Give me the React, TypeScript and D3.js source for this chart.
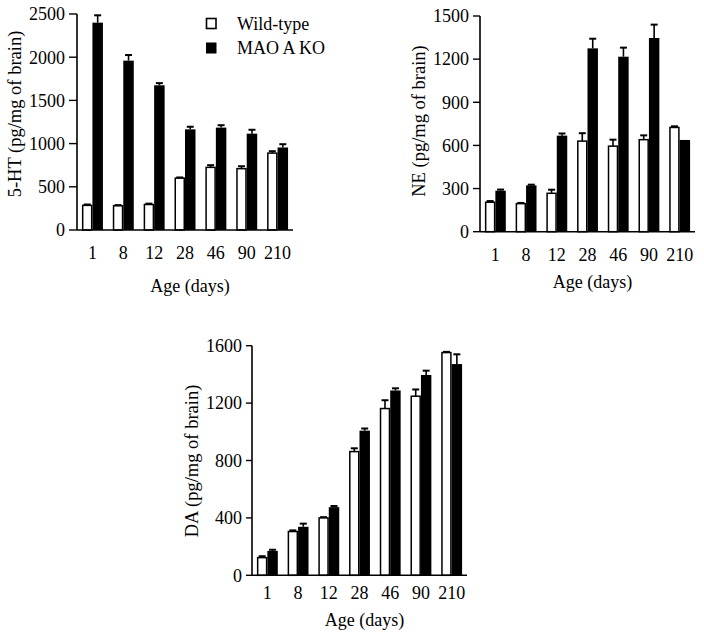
import React from "react";
import * as d3 from "d3";

const ages = ["1", "8", "12", "28", "46", "90", "210"];
const seriesNames = ["Wild-type", "MAO A KO"];

const htWT = [285, 280, 295, 600, 725, 710, 890];
const htWTErr = [10, 8, 10, 8, 25, 28, 22];
const htKO = [2400, 1960, 1675, 1165, 1185, 1115, 955];
const htKOErr = [85, 65, 25, 30, 28, 45, 38];

const neWT = [205, 195, 267, 630, 595, 640, 725];
const neWTErr = [8, 5, 25, 55, 45, 30, 8];
const neKO = [285, 322, 668, 1275, 1217, 1347, 638];
const neKOErr = [8, 5, 15, 67, 63, 93, 0];

const daWT = [123, 305, 400, 862, 1162, 1248, 1552];
const daWTErr = [10, 8, 5, 23, 58, 47, 5];
const daKO = [170, 338, 475, 1008, 1288, 1396, 1472];
const daKOErr = [8, 22, 8, 15, 15, 30, 68];

const htTicks = [0, 500, 1000, 1500, 2000, 2500];
const neTicks = [0, 300, 600, 900, 1200, 1500];
const daTicks = [0, 400, 800, 1200, 1600];

const FONT = "'Liberation Serif', 'Times New Roman', serif";

type PanelProps = {
  x0: number; x1: number; yBottom: number; yTop: number;
  max: number; ticks: number[]; tickLen: number;
  wt: number[]; wtErr: number[]; ko: number[]; koErr: number[];
  yTitle: string; yTitleX: number; yTitleY: number;
  labelY: number; titleY: number;
};

function Panel(p: PanelProps) {
  const x = d3.scaleBand<string>().domain(ages).range([p.x0, p.x1]).paddingInner(0.32).paddingOuter(0.16);
  const sub = d3.scaleBand<string>().domain(seriesNames).range([0, x.bandwidth()]);
  const y = d3.scaleLinear().domain([0, p.max]).range([p.yBottom, p.yTop]);
  const series = [
    { name: seriesNames[0], vals: p.wt, errs: p.wtErr, fill: "#fff" },
    { name: seriesNames[1], vals: p.ko, errs: p.koErr, fill: "#000" },
  ];
  const capW = 7;
  return (
    <g>
      {series.map((s) =>
        ages.map((a, i) => {
          const bx = (x(a) as number) + (sub(s.name) as number);
          const bw = sub.bandwidth();
          const top = y(s.vals[i]);
          const cx = bx + bw / 2;
          const errTop = y(s.vals[i] + s.errs[i]);
          return (
            <g key={s.name + a}>
              {s.errs[i] > 0 && (
                <g stroke="#000" strokeWidth={1.6}>
                  <line x1={cx} x2={cx} y1={top} y2={errTop} />
                  <line x1={cx - capW / 2} x2={cx + capW / 2} y1={errTop} y2={errTop} strokeWidth={2} />
                </g>
              )}
              <rect
                x={s.fill === "#fff" ? bx + 0.75 : bx}
                y={top}
                width={s.fill === "#fff" ? bw - 1.5 : bw}
                height={p.yBottom - top}
                fill={s.fill}
                stroke="#000"
                strokeWidth={s.fill === "#fff" ? 1.5 : 0}
              />
            </g>
          );
        })
      )}
      <line x1={p.x0} x2={p.x0} y1={p.yBottom} y2={y(p.max)} stroke="#000" strokeWidth={1.6} />
      {p.ticks.map((t) => (
        <g key={t}>
          <line x1={p.x0 - p.tickLen} x2={p.x0} y1={y(t)} y2={y(t)} stroke="#000" strokeWidth={1.4} />
          <text x={p.x0 - p.tickLen - 4} y={y(t)} dy="0.35em" textAnchor="end" fontSize={18} fontFamily={FONT}>
            {t}
          </text>
        </g>
      ))}
      <line x1={p.x0} x2={p.x1} y1={p.yBottom} y2={p.yBottom} stroke="#000" strokeWidth={1.6} />
      {ages.map((a) => (
        <text key={a} x={(x(a) as number) + x.bandwidth() / 2} y={p.labelY} dy="0.35em" textAnchor="middle" fontSize={18} fontFamily={FONT}>
          {a}
        </text>
      ))}
      <text x={(p.x0 + p.x1) / 2 + 5} y={p.titleY} dy="0.35em" textAnchor="middle" fontSize={18} fontFamily={FONT}>
        Age (days)
      </text>
      <text
        transform={`translate(${p.yTitleX},${p.yTitleY}) rotate(-90)`}
        dy="0.35em"
        textAnchor="middle"
        fontSize={18.5}
        fontFamily={FONT}
      >
        {p.yTitle}
      </text>
    </g>
  );
}

export default function App() {
  return (
    <svg width={704} height={635} style={{ position: "absolute", left: 0, top: 0, background: "#fff" }}>
      <rect width={704} height={635} fill="#fff" />
      <Panel x0={77} x1={293} yBottom={230} yTop={14} max={2500} ticks={htTicks} tickLen={8}
        wt={htWT} wtErr={htWTErr} ko={htKO} koErr={htKOErr}
        yTitle="5-HT (pg/mg of brain)" yTitleX={15} yTitleY={114} labelY={253} titleY={286} />
      <Panel x0={480} x1={695} yBottom={231.7} yTop={16} max={1500} ticks={neTicks} tickLen={7}
        wt={neWT} wtErr={neWTErr} ko={neKO} koErr={neKOErr}
        yTitle="NE (pg/mg of brain)" yTitleX={419} yTitleY={121} labelY={255} titleY={282} />
      <Panel x0={252} x1={467} yBottom={575.3} yTop={345.7} max={1600} ticks={daTicks} tickLen={6}
        wt={daWT} wtErr={daWTErr} ko={daKO} koErr={daKOErr}
        yTitle="DA (pg/mg of brain)" yTitleX={192} yTitleY={461} labelY={593} titleY={620} />
      <g fontFamily={FONT} fontSize={18}>
        <rect x={206.5} y={18.5} width={9.5} height={10} fill="#fff" stroke="#000" strokeWidth={1.6} />
        <text x={237} y={24} dy="0.35em">{seriesNames[0]}</text>
        <rect x={206} y={42.5} width={10.5} height={11} fill="#000" />
        <text x={237} y={48} dy="0.35em">{seriesNames[1]}</text>
      </g>
    </svg>
  );
}
